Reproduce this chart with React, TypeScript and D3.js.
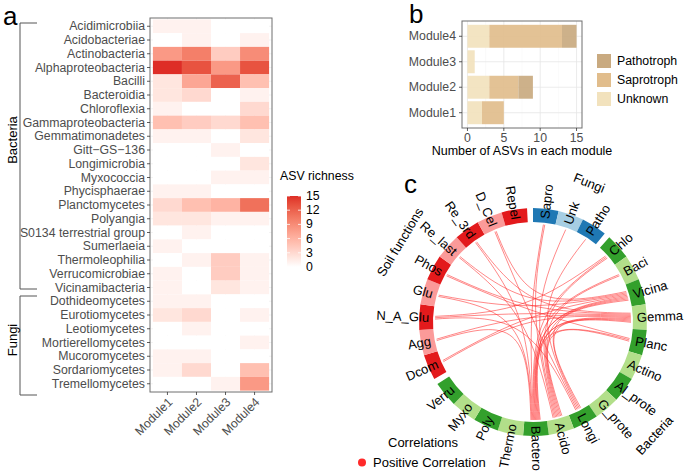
import React from 'react';
import * as d3 from 'd3';

// ---------- Panel a data ----------
const classes = [
  'Acidimicrobiia', 'Acidobacteriae', 'Actinobacteria', 'Alphaproteobacteria', 'Bacilli',
  'Bacteroidia', 'Chloroflexia', 'Gammaproteobacteria', 'Gemmatimonadetes', 'Gitt\u2212GS\u2212136',
  'Longimicrobia', 'Myxococcia', 'Phycisphaerae', 'Planctomycetes', 'Polyangia',
  'S0134 terrestrial group', 'Sumerlaeia', 'Thermoleophilia', 'Verrucomicrobiae', 'Vicinamibacteria',
  'Dothideomycetes', 'Eurotiomycetes', 'Leotiomycetes', 'Mortierellomycetes', 'Mucoromycetes',
  'Sordariomycetes', 'Tremellomycetes',
];
const modules = ['Module1', 'Module2', 'Module3', 'Module4'];
const module1 = [1, 0, 8, 15, 2, 2, 1, 5, 1, 0, 0, 0, 1, 3, 2, 0, 1, 0, 1, 1, 1, 2, 0, 0, 1, 1, 0];
const module2 = [1, 1, 10, 13, 7, 3, 0, 4, 1, 0, 0, 0, 1, 5, 2, 1, 0, 1, 0, 0, 1, 3, 1, 0, 1, 3, 0];
const module3 = [0, 0, 4, 8, 12, 0, 0, 3, 0, 1, 0, 1, 0, 6, 1, 0, 0, 4, 4, 2, 0, 0, 0, 0, 0, 0, 1];
const module4 = [0, 1, 9, 13, 5, 1, 3, 5, 2, 0, 2, 1, 0, 11, 1, 0, 0, 1, 1, 1, 0, 1, 0, 1, 0, 5, 8];
const legendTicks = [0, 3, 6, 9, 12, 15];

// ---------- Panel b data ----------
const bModules = ['Module1', 'Module2', 'Module3', 'Module4'];
const unknownCounts = [2, 3, 1, 3];
const saprotrophCounts = [3, 4, 0, 10];
const pathotrophCounts = [0, 2, 0, 2];
const guildKeys = ['Unknown', 'Saprotroph', 'Pathotroph'];
const bTicks = [0, 5, 10, 15];

// ---------- Panel c data ----------
const fungiNodes = ['Sapro', 'Unk', 'Patho'];
const bacteriaNodes = ['Chlo', 'Baci', 'Vicina', 'Gemma', 'Planc', 'Actino', 'Al_prote', 'G_prote',
  'Longi', 'Acido', 'Bactero', 'Thermo', 'Poly', 'Myxo', 'Verru'];
const soilNodes = ['Dcom', 'Agg', 'N_A_Glu', 'Glu', 'Phos', 'Re_last', 'Re_3rd', 'D_Cel', 'Repel'];
const linkFrom = [
  'Dcom', 'Dcom', 'Agg', 'Agg', 'N_A_Glu', 'N_A_Glu', 'N_A_Glu', 'Glu', 'Glu', 'Phos', 'Phos',
  'Re_last', 'Re_last', 'Re_3rd', 'Re_3rd', 'D_Cel', 'D_Cel',
  'Sapro', 'Sapro', 'Unk', 'Patho', 'Baci', 'Baci',
  'Vicina', 'Vicina', 'Vicina', 'Vicina', 'Gemma', 'Gemma', 'Gemma', 'Gemma',
  'Planc', 'Planc', 'Chlo', 'Chlo'];
const linkTo = [
  'Vicina', 'Gemma', 'Gemma', 'Bactero', 'Longi', 'Chlo', 'Gemma', 'Bactero', 'Vicina', 'Gemma', 'Planc',
  'Acido', 'Vicina', 'Bactero', 'Gemma', 'Longi', 'Vicina',
  'Bactero', 'Acido', 'Acido', 'Longi', 'Bactero', 'Acido',
  'Bactero', 'Acido', 'Longi', 'Bactero', 'Bactero', 'Acido', 'Longi', 'Bactero',
  'Bactero', 'Acido', 'Acido', 'Bactero'];

const FONT = 'Liberation Sans, Arial, Helvetica, sans-serif';

function Heatmap() {
  const hx = d3.scaleBand<string>().domain(modules).range([150, 272]).paddingOuter(0.1);
  const hy = d3.scaleBand<string>().domain(classes).range([18, 392]).paddingOuter(0.1);
  const color = d3.scaleLinear<string>().domain([0, 15]).range(['#ffffff', '#de2d26']).interpolate(d3.interpolateLab);
  const cols = [module1, module2, module3, module4];
  const cb = d3.scaleLinear().domain([0, 15]).range([267, 196]);
  const bw = hx.bandwidth();
  const bh = hy.bandwidth();
  return (
    <g fontFamily={FONT}>
      <text x={3} y={25} fontSize={26}>a</text>
      {modules.map(m => (
        <line key={'gv' + m} x1={hx(m)! + bw / 2} x2={hx(m)! + bw / 2} y1={18} y2={392} stroke="#ebebeb" strokeWidth={0.6} />
      ))}
      {classes.map(c => (
        <line key={'gh' + c} x1={150} x2={272} y1={hy(c)! + bh / 2} y2={hy(c)! + bh / 2} stroke="#ebebeb" strokeWidth={0.6} />
      ))}
      {modules.map((m, j) => classes.map((c, i) => (
        <rect key={m + c} x={hx(m)} y={hy(c)} width={bw} height={bh} fill={color(cols[j][i])} />
      )))}
      <rect x={150} y={18} width={122} height={374} fill="none" stroke="#6e6e6e" strokeWidth={1} />
      {classes.map(c => (
        <g key={'yl' + c}>
          <line x1={147} x2={150} y1={hy(c)! + bh / 2} y2={hy(c)! + bh / 2} stroke="#333" strokeWidth={0.8} />
          <text x={145} y={hy(c)! + bh / 2} textAnchor="end" dominantBaseline="central" fontSize={12.3} fill="#4d4d4d">{c}</text>
        </g>
      ))}
      {modules.map(m => (
        <g key={'xl' + m}>
          <line x1={hx(m)! + bw / 2} x2={hx(m)! + bw / 2} y1={392} y2={395} stroke="#333" strokeWidth={0.8} />
          <text transform={`translate(${hx(m)! + bw / 2 + 3},${400}) rotate(-45)`} textAnchor="end" dominantBaseline="central" fontSize={12.3} fill="#4d4d4d">{m}</text>
        </g>
      ))}
      <path d={`M37,${23}H20V${289}H37`} fill="none" stroke="#555" strokeWidth={1} />
      <path d={`M37,${296}H20V${395}H37`} fill="none" stroke="#555" strokeWidth={1} />
      <text transform="translate(12,140) rotate(-90)" textAnchor="middle" dominantBaseline="central" fontSize={13}>Bacteria</text>
      <text transform="translate(12,340) rotate(-90)" textAnchor="middle" dominantBaseline="central" fontSize={13}>Fungi</text>
      <text x={280} y={180} fontSize={12.3}>ASV richness</text>
      <defs>
        <linearGradient id="asvgrad" x1="0" y1="1" x2="0" y2="0">
          {d3.range(0, 16).map(v => (
            <stop key={v} offset={`${(v / 15) * 100}%`} stopColor={color(v)} />
          ))}
        </linearGradient>
      </defs>
      <rect x={287} y={cb(15)} width={14} height={cb(0) - cb(15)} fill="url(#asvgrad)" />
      {legendTicks.map(t => (
        <g key={'lt' + t}>
          <line x1={287} x2={290} y1={cb(t)} y2={cb(t)} stroke="#fff" strokeWidth={0.8} />
          <line x1={298} x2={301} y1={cb(t)} y2={cb(t)} stroke="#fff" strokeWidth={0.8} />
          <text x={306} y={cb(t)} dominantBaseline="central" fontSize={12.3}>{t}</text>
        </g>
      ))}
    </g>
  );
}

function BarPanel() {
  const xb = d3.scaleLinear().domain([-0.75, 15.75]).range([462, 582]);
  const yb = d3.scaleBand<string>().domain([...bModules].reverse()).range([21, 128]).paddingInner(0.1).paddingOuter(0.15);
  const rows = bModules.map((m, i) => ({ module: m, Unknown: unknownCounts[i], Saprotroph: saprotrophCounts[i], Pathotroph: pathotrophCounts[i] }));
  const series = d3.stack<any>().keys(guildKeys)(rows);
  const fills: Record<string, string> = { Pathotroph: '#c9aa80', Saprotroph: '#e1bd8c', Unknown: '#f2e2bd' };
  const legendOrder = ['Pathotroph', 'Saprotroph', 'Unknown'];
  const minor = [2.5, 7.5, 12.5];
  return (
    <g fontFamily={FONT}>
      <text x={409} y={23} fontSize={26}>b</text>
      {minor.map(v => <line key={'mn' + v} x1={xb(v)} x2={xb(v)} y1={21} y2={128} stroke="#f4f4f4" strokeWidth={0.5} />)}
      {bTicks.map(v => <line key={'mj' + v} x1={xb(v)} x2={xb(v)} y1={21} y2={128} stroke="#e6e6e6" strokeWidth={0.8} />)}
      {bModules.map(m => <line key={'hg' + m} x1={462} x2={582} y1={yb(m)! + yb.bandwidth() / 2} y2={yb(m)! + yb.bandwidth() / 2} stroke="#e6e6e6" strokeWidth={0.8} />)}
      {series.map(s => s.map((d, i) => (
        <rect key={s.key + i} x={xb(d[0])} width={xb(d[1]) - xb(d[0])} y={yb(d.data.module)} height={yb.bandwidth()} fill={fills[s.key]} opacity={0.92} />
      )))}
      <rect x={462} y={21} width={120} height={107} fill="none" stroke="#6e6e6e" strokeWidth={1} />
      {bModules.map(m => (
        <g key={'yl' + m}>
          <line x1={459} x2={462} y1={yb(m)! + yb.bandwidth() / 2} y2={yb(m)! + yb.bandwidth() / 2} stroke="#333" strokeWidth={0.8} />
          <text x={456} y={yb(m)! + yb.bandwidth() / 2} textAnchor="end" dominantBaseline="central" fontSize={12.3} fill="#4d4d4d">{m}</text>
        </g>
      ))}
      {bTicks.map(v => (
        <g key={'xt' + v}>
          <line x1={xb(v)} x2={xb(v)} y1={128} y2={131} stroke="#333" strokeWidth={0.8} />
          <text x={xb(v)} y={141.5} textAnchor="middle" fontSize={12.3} fill="#4d4d4d">{v}</text>
        </g>
      ))}
      <text x={522} y={154.5} textAnchor="middle" fontSize={12.5}>Number of ASVs in each module</text>
      {legendOrder.map((k, i) => (
        <g key={'lg' + k}>
          <rect x={597} y={54 + i * 19} width={14} height={14} fill={fills[k]} />
          <text x={617} y={61 + i * 19} dominantBaseline="central" fontSize={12.3}>{k}</text>
        </g>
      ))}
    </g>
  );
}

function Chord() {
  const cx = 533, cy = 322, rIn = 100, rOut = 114;
  const knot = [528, 312];
  const sector = 13, gap = 3;
  const groups = [
    { name: 'Fungi', nodes: fungiNodes, colors: ['#1f78b4', '#a6cee3'] },
    { name: 'Bacteria', nodes: bacteriaNodes, colors: ['#33a02c', '#b2df8a'] },
    { name: 'Soil functions', nodes: soilNodes, colors: ['#e31a1c', '#fb9a99'] },
  ];
  const groupLabelPos: Record<string, { a: number; r: number }> = {
    Fungi: { a: 22, r: 150 }, Bacteria: { a: 133, r: 166 }, 'Soil functions': { a: 301, r: 155 },
  };
  type Sec = { name: string; start: number; end: number; color: string };
  const secs: Sec[] = [];
  let a = 0;
  groups.forEach(g => {
    g.nodes.forEach((n, i) => {
      secs.push({ name: n, start: a, end: a + sector, color: g.colors[i % 2] });
      a += sector;
    });
    a += gap;
  });
  const secMap: Record<string, Sec> = {};
  secs.forEach(s => (secMap[s.name] = s));
  const mid = (s: Sec) => (s.start + s.end) / 2;
  const rad = (deg: number) => (deg * Math.PI) / 180;
  const pt = (deg: number, r: number) => [cx + r * Math.sin(rad(deg)), cy - r * Math.cos(rad(deg))];
  const arc = d3.arc<any>().innerRadius(rIn).outerRadius(rOut);

  const links = linkFrom.map((f, i) => ({ f, t: linkTo[i] }));
  const ends: Record<string, { link: number; other: number }[]> = {};
  links.forEach((l, i) => {
    (ends[l.f] = ends[l.f] || []).push({ link: i, other: mid(secMap[l.t]) });
    (ends[l.t] = ends[l.t] || []).push({ link: i, other: mid(secMap[l.f]) });
  });
  const endAngle: Record<string, number> = {};
  Object.keys(ends).forEach(node => {
    const m = mid(secMap[node]);
    const list = ends[node].slice().sort((p, q) => ((q.other - m + 360) % 360) - ((p.other - m + 360) % 360));
    const k = list.length;
    const step = Math.min(0.8, 6 / Math.max(k, 1));
    list.forEach((e, j) => {
      endAngle[e.link + '|' + node] = m + (j - (k - 1) / 2) * step;
    });
  });
  const linkPaths = links.map((l, i) => {
    const p0 = pt(endAngle[i + '|' + l.f], rIn - 2);
    const p1 = pt(endAngle[i + '|' + l.t], rIn - 2);
    const f = 0.15;
    const c0 = [knot[0] + (p0[0] - knot[0]) * f, knot[1] + (p0[1] - knot[1]) * f];
    const c1 = [knot[0] + (p1[0] - knot[0]) * f, knot[1] + (p1[1] - knot[1]) * f];
    const p = d3.path();
    p.moveTo(p0[0], p0[1]);
    p.bezierCurveTo(c0[0], c0[1], c1[0], c1[1], p1[0], p1[1]);
    return p.toString();
  });

  return (
    <g fontFamily={FONT}>
      <text x={404} y={193} fontSize={26}>c</text>
      {linkPaths.map((d, i) => (
        <path key={'lk' + i} d={d} fill="none" stroke="#ff2a2a" strokeOpacity={0.7} strokeWidth={0.8} />
      ))}
      {secs.map(s => (
        <path key={'sc' + s.name} transform={`translate(${cx},${cy})`} d={arc({ startAngle: rad(s.start), endAngle: rad(s.end) })!} fill={s.color} />
      ))}
      {secs.map(s => {
        const m = mid(s);
        const [x, y] = pt(m, 104);
        const right = m < 180;
        return (
          <text key={'sl' + s.name} transform={`translate(${x},${y}) rotate(${right ? m - 90 : m - 270})`}
            textAnchor={right ? 'start' : 'end'} dominantBaseline="central" fontSize={13}>{s.name}</text>
        );
      })}
      {groups.map(g => {
        const gp = groupLabelPos[g.name];
        const [x, y] = pt(gp.a, gp.r);
        const rot = gp.a > 90 && gp.a < 270 ? gp.a - 180 : (gp.a > 270 ? gp.a - 360 : gp.a);
        return (
          <text key={'gl' + g.name} transform={`translate(${x},${y}) rotate(${rot})`} textAnchor="middle" dominantBaseline="central" fontSize={13}>{g.name}</text>
        );
      })}
      <text x={388} y={447} fontSize={13}>Correlations</text>
      <circle cx={362} cy={462.5} r={4} fill="#ff2a2a" />
      <text x={373} y={467} fontSize={13}>Positive Correlation</text>
    </g>
  );
}

export default function App() {
  return (
    <svg width={685} height={471} style={{ position: 'absolute', left: 0, top: 0, background: '#fff' }}>
      <rect x={0} y={0} width={685} height={471} fill="#fff" />
      <Heatmap />
      <BarPanel />
      <Chord />
    </svg>
  );
}
